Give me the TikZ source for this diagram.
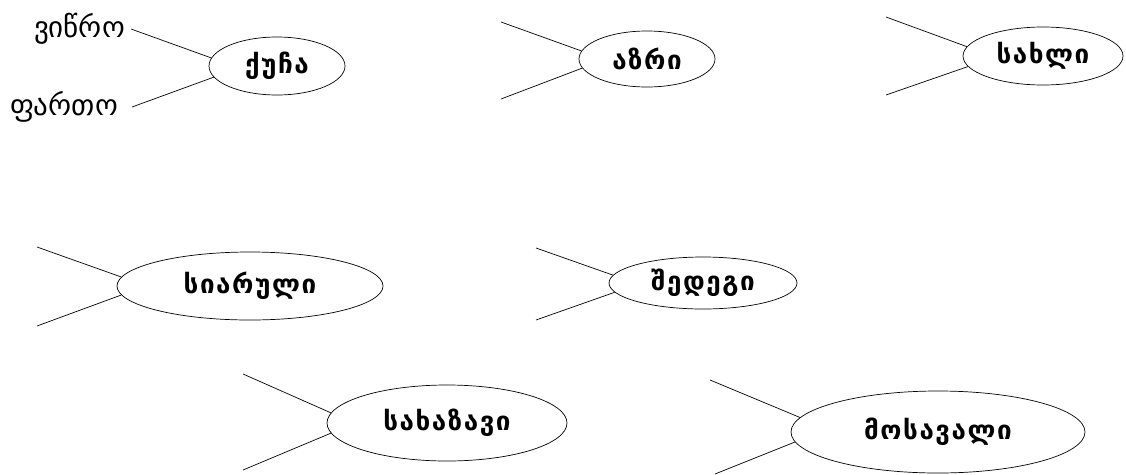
\documentclass[tikz,border=0pt]{standalone}
\usepackage{fontspec}
\usetikzlibrary{shapes.geometric}
\newfontfamily\geo{DejaVu Sans}
\newfontfamily\geow[LetterSpace=6]{DejaVu Sans}
\tikzset{
  word/.style={ellipse, draw, line width=0.7pt, inner sep=0pt, font=\geow\bfseries\fontsize{26}{30}\selectfont},
  link/.style={line width=0.7pt},
  lbl/.style={font=\geo\fontsize{29}{32}\selectfont, inner sep=0pt}
}
\begin{document}
\begin{tikzpicture}[x=1pt,y=-1pt]
\useasboundingbox (0,0) rectangle (1126,474);
% ellipses
\node[word, minimum width=136pt, minimum height=58pt] (e1) at (277,66) {ქუჩა};
\node[word, minimum width=136pt, minimum height=56pt] (e2) at (647,59) {აზრი};
\node[word, minimum width=160pt, minimum height=58pt] (e3) at (1043,56) {სახლი};
\node[word, minimum width=266pt, minimum height=68pt] (e4) at (250,286) {სიარული};
\node[word, minimum width=188pt, minimum height=52pt] (e5) at (703,283) {შედეგი};
\node[word, minimum width=240pt, minimum height=76pt] (e6) at (447,423) {სახაზავი};
\node[word, minimum width=294pt, minimum height=82pt] (e7) at (938,432) {მოსავალი};
% labels
\node[lbl, anchor=east] (l1) at (125,29) {ვიწრო};
\node[lbl, anchor=east] (l2) at (118,107) {ფართო};
% free ends
\coordinate (a1) at (131,29);
\coordinate (b1) at (132,107);
\coordinate (a2) at (501,22);
\coordinate (b2) at (501,99);
\coordinate (a3) at (886,17);
\coordinate (b3) at (886,95);
\coordinate (a4) at (37,247);
\coordinate (b4) at (37,326);
\coordinate (a5) at (536,248);
\coordinate (b5) at (536,320);
\coordinate (a6) at (243,374);
\coordinate (b6) at (243,470);
\coordinate (a7) at (710,380);
\coordinate (b7) at (715,474);
% connectors
\draw[link] (a1) -- (e1.173);
\draw[link] (b1) -- (e1.190);
\draw[link] (a2) -- (e2.173);
\draw[link] (b2) -- (e2.188);
\draw[link] (a3) -- (e3.173);
\draw[link] (b3) -- (e3.188);
\draw[link] (a4) -- (e4.176);
\draw[link] (b4) -- (e4.184);
\draw[link] (a5) -- (e5.175);
\draw[link] (b5) -- (e5.186);
\draw[link] (a6) -- (e6.175);
\draw[link] (b6) -- (e6.185);
\draw[link] (a7) -- (e7.174);
\draw[link] (b7) -- (e7.184);
\end{tikzpicture}
\end{document}
